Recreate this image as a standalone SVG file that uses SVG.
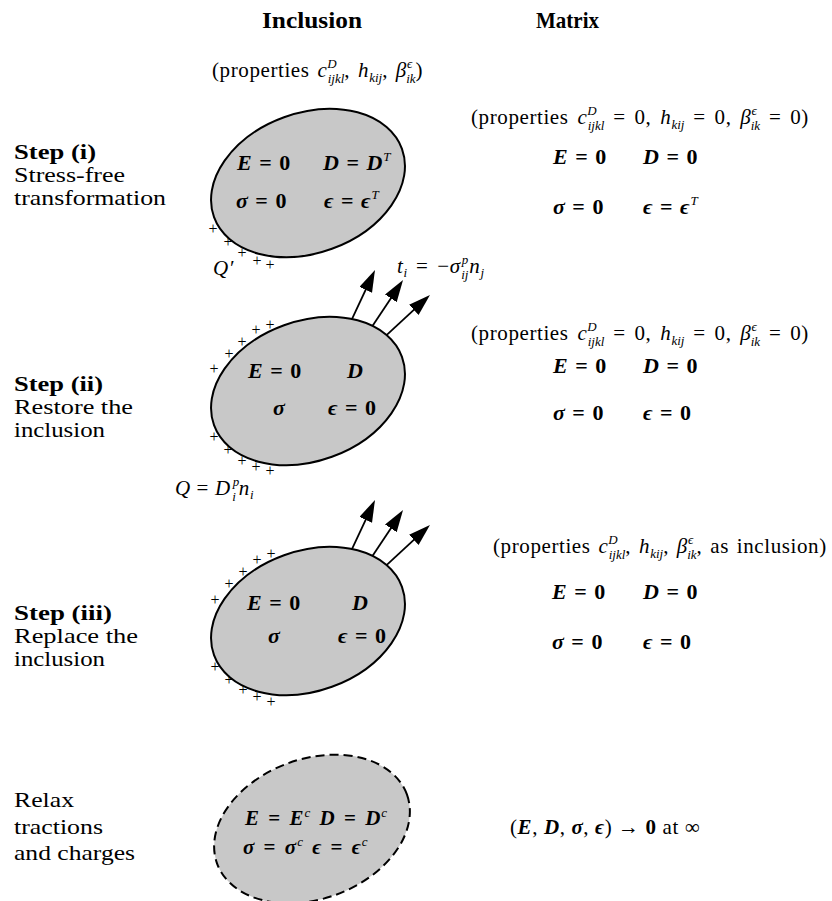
<svg xmlns="http://www.w3.org/2000/svg" width="832" height="901" viewBox="0 0 832 901">
<style>
text { font-family: "Liberation Serif", "Times New Roman", "DejaVu Serif", serif; fill: #000; }
.h { font-size: 23px; font-weight: bold; }
.lab { font-size: 21px; }
.labb { font-size: 21px; font-weight: bold; }
.p { font-size: 21px; letter-spacing: 0.6px; }
.ws { word-spacing: 3px; }
.ws2 { word-spacing: 2px; }
.i { font-style: italic; }
.s { font-size: 13px; font-style: italic; letter-spacing: 0; }
.m { font-size: 22px; font-weight: bold; word-spacing: 2px; }
.m2 { font-size: 21px; font-weight: bold; word-spacing: 4px; }
.bi { font-style: italic; }
.sup { font-size: 13px; font-style: italic; font-weight: normal; }
.plus { font-size: 16px; text-anchor: middle; }
.ell { fill: #c8c8c8; stroke: #000; stroke-width: 2; }
.dash { stroke-dasharray: 9 5; }
.arr { stroke: #000; stroke-width: 1.8; fill: none; marker-end: url(#ah); }
</style>
<defs>
<marker id="ah" markerUnits="userSpaceOnUse" markerWidth="24" markerHeight="16" refX="14" refY="7" orient="auto">
<path d="M0,0 L22,7 L0,14 z" fill="#000"/>
</marker>
</defs>
<rect width="832" height="901" fill="#fff"/>

<g id="headers">
<text class="h" x="262" y="28" textLength="100" lengthAdjust="spacingAndGlyphs">Inclusion</text>
<text class="h" x="536" y="28" textLength="63" lengthAdjust="spacingAndGlyphs">Matrix</text>
</g>

<g id="labels">
<text class="labb" x="14" y="159" textLength="82" lengthAdjust="spacingAndGlyphs">Step (i)</text>
<text class="lab" x="14" y="182" textLength="111" lengthAdjust="spacingAndGlyphs">Stress-free</text>
<text class="lab" x="14" y="205" textLength="152" lengthAdjust="spacingAndGlyphs">transformation</text>
<text class="labb" x="14" y="391" textLength="89" lengthAdjust="spacingAndGlyphs">Step (ii)</text>
<text class="lab" x="14" y="414" textLength="119" lengthAdjust="spacingAndGlyphs">Restore the</text>
<text class="lab" x="14" y="437" textLength="91" lengthAdjust="spacingAndGlyphs">inclusion</text>
<text class="labb" x="14" y="620" textLength="98" lengthAdjust="spacingAndGlyphs">Step (iii)</text>
<text class="lab" x="14" y="643" textLength="124" lengthAdjust="spacingAndGlyphs">Replace the</text>
<text class="lab" x="14" y="666" textLength="91" lengthAdjust="spacingAndGlyphs">inclusion</text>
<text class="lab" x="14" y="807" textLength="60" lengthAdjust="spacingAndGlyphs">Relax</text>
<text class="lab" x="14" y="834" textLength="89" lengthAdjust="spacingAndGlyphs">tractions</text>
<text class="lab" x="14" y="860" textLength="121" lengthAdjust="spacingAndGlyphs">and charges</text>
</g>

<g id="connectors">
<line class="arr" x1="349.6" y1="324.2" x2="371.6" y2="277.2"/>
<line class="arr" x1="370.6" y1="328.7" x2="398.6" y2="286.7"/>
<line class="arr" x1="384.1" y1="337.4" x2="424.1" y2="300.4"/>
<line class="arr" x1="349.6" y1="554.2" x2="371.6" y2="507.2"/>
<line class="arr" x1="370.6" y1="558.7" x2="398.6" y2="516.7"/>
<line class="arr" x1="384.1" y1="567.4" x2="424.1" y2="530.4"/>
</g>

<g id="inclusion-props">
<text class="p ws2" x="212" y="77">(properties <tspan class="i">c</tspan><tspan class="s" dy="-9">D</tspan><tspan class="s" dx="-9" dy="15">ijkl</tspan><tspan dy="-6">, </tspan><tspan class="i">h</tspan><tspan class="s" dy="5">kij</tspan><tspan dy="-5">, </tspan><tspan class="i">β</tspan><tspan class="s" dy="-9">ϵ</tspan><tspan class="s" dx="-6" dy="15">ik</tspan><tspan dy="-6">)</tspan></text>
</g>

<g id="step1-inclusion">
<ellipse class="ell" cx="308" cy="183" rx="100" ry="70" transform="rotate(-20 308 183)"/>
<text class="m" x="237" y="170"><tspan class="bi">E</tspan> = 0</text>
<text class="m" x="323" y="170"><tspan class="bi">D</tspan> = <tspan class="bi">D</tspan><tspan class="sup" dx="1" dy="-9">T</tspan></text>
<text class="m" x="236" y="208"><tspan class="bi">σ</tspan> = 0</text>
<text class="m" x="324" y="208"><tspan class="bi">ϵ</tspan> = <tspan class="bi">ϵ</tspan><tspan class="sup" dx="1" dy="-9">T</tspan></text>
<text class="plus" x="213" y="234">+</text>
<text class="plus" x="228" y="247">+</text>
<text class="plus" x="242" y="258">+</text>
<text class="plus" x="257" y="266">+</text>
<text class="plus" x="270" y="270">+</text>
<text class="p i" x="213" y="275">Q′</text>
</g>

<g id="traction-label">
<text class="p ws" x="397" y="273"><tspan class="i">t</tspan><tspan class="s" dy="4">i</tspan><tspan dy="-4"> = −</tspan><tspan class="i">σ</tspan><tspan class="s" dx="1" dy="-9">p</tspan><tspan class="s" dx="-7" dy="15">ij</tspan><tspan class="i" dx="1" dy="-6">n</tspan><tspan class="s" dy="4">j</tspan></text>
</g>

<g id="step2-inclusion">
<ellipse class="ell" cx="308" cy="391" rx="100" ry="70" transform="rotate(-20 308 391)"/>
<text class="m" x="248" y="378"><tspan class="bi">E</tspan> = 0</text>
<text class="m" x="347" y="378"><tspan class="bi">D</tspan></text>
<text class="m" x="273" y="415"><tspan class="bi">σ</tspan></text>
<text class="m" x="328" y="415"><tspan class="bi">ϵ</tspan> = 0</text>
<text class="plus" x="214" y="374">+</text>
<text class="plus" x="229" y="359">+</text>
<text class="plus" x="242" y="347">+</text>
<text class="plus" x="256" y="335">+</text>
<text class="plus" x="270" y="330">+</text>
<text class="plus" x="214" y="442">+</text>
<text class="plus" x="228" y="455">+</text>
<text class="plus" x="242" y="466">+</text>
<text class="plus" x="256" y="472">+</text>
<text class="plus" x="270" y="476">+</text>
<text class="p" x="175" y="495"><tspan class="i">Q</tspan> = <tspan class="i">D</tspan><tspan class="s" dx="2" dy="-9">p</tspan><tspan class="s" dx="-7" dy="15">i</tspan><tspan class="i" dx="3" dy="-6">n</tspan><tspan class="s" dy="4">i</tspan></text>
</g>

<g id="step3-inclusion">
<ellipse class="ell" cx="308" cy="621" rx="100" ry="70" transform="rotate(-20 308 621)"/>
<text class="m" x="247" y="610"><tspan class="bi">E</tspan> = 0</text>
<text class="m" x="352" y="610"><tspan class="bi">D</tspan></text>
<text class="m" x="268" y="643"><tspan class="bi">σ</tspan></text>
<text class="m" x="338" y="643"><tspan class="bi">ϵ</tspan> = 0</text>
<text class="plus" x="215" y="605">+</text>
<text class="plus" x="229" y="589">+</text>
<text class="plus" x="243" y="577">+</text>
<text class="plus" x="257" y="565">+</text>
<text class="plus" x="271" y="559">+</text>
<text class="plus" x="215" y="672">+</text>
<text class="plus" x="229" y="685">+</text>
<text class="plus" x="243" y="695">+</text>
<text class="plus" x="257" y="702">+</text>
<text class="plus" x="271" y="707">+</text>
</g>

<g id="step4-inclusion">
<ellipse class="ell dash" cx="312" cy="829" rx="101" ry="70" transform="rotate(-20 312 829)"/>
<text class="m2" x="245" y="825"><tspan class="bi">E</tspan> = <tspan class="bi">E</tspan><tspan class="sup" dx="1" dy="-8">c</tspan><tspan dy="8"> </tspan><tspan class="bi">D</tspan> = <tspan class="bi">D</tspan><tspan class="sup" dx="1" dy="-8">c</tspan></text>
<text class="m2" x="243" y="854"><tspan class="bi">σ</tspan> = <tspan class="bi">σ</tspan><tspan class="sup" dx="1" dy="-8">c</tspan><tspan dy="8">  </tspan><tspan class="bi">ϵ</tspan> = <tspan class="bi">ϵ</tspan><tspan class="sup" dx="1" dy="-8">c</tspan></text>
</g>

<g id="step1-matrix">
<text class="p ws" x="471" y="124">(properties <tspan class="i">c</tspan><tspan class="s" dy="-9">D</tspan><tspan class="s" dx="-9" dy="15">ijkl</tspan><tspan dy="-6"> = 0, </tspan><tspan class="i">h</tspan><tspan class="s" dy="5">kij</tspan><tspan dy="-5"> = 0, </tspan><tspan class="i">β</tspan><tspan class="s" dy="-9">ϵ</tspan><tspan class="s" dx="-6" dy="15">ik</tspan><tspan dy="-6"> = 0)</tspan></text>
<text class="m" x="553" y="164"><tspan class="bi">E</tspan> = 0</text>
<text class="m" x="643" y="164"><tspan class="bi">D</tspan> = 0</text>
<text class="m" x="553" y="214"><tspan class="bi">σ</tspan> = 0</text>
<text class="m" x="643" y="214"><tspan class="bi">ϵ</tspan> = <tspan class="bi">ϵ</tspan><tspan class="sup" dx="1" dy="-9">T</tspan></text>
</g>

<g id="step2-matrix">
<text class="p ws" x="471" y="340">(properties <tspan class="i">c</tspan><tspan class="s" dy="-9">D</tspan><tspan class="s" dx="-9" dy="15">ijkl</tspan><tspan dy="-6"> = 0, </tspan><tspan class="i">h</tspan><tspan class="s" dy="5">kij</tspan><tspan dy="-5"> = 0, </tspan><tspan class="i">β</tspan><tspan class="s" dy="-9">ϵ</tspan><tspan class="s" dx="-6" dy="15">ik</tspan><tspan dy="-6"> = 0)</tspan></text>
<text class="m" x="553" y="373"><tspan class="bi">E</tspan> = 0</text>
<text class="m" x="643" y="373"><tspan class="bi">D</tspan> = 0</text>
<text class="m" x="553" y="420"><tspan class="bi">σ</tspan> = 0</text>
<text class="m" x="643" y="420"><tspan class="bi">ϵ</tspan> = 0</text>
</g>

<g id="step3-matrix">
<text class="p ws2" x="493" y="553">(properties <tspan class="i">c</tspan><tspan class="s" dy="-9">D</tspan><tspan class="s" dx="-9" dy="15">ijkl</tspan><tspan dy="-6">, </tspan><tspan class="i">h</tspan><tspan class="s" dy="5">kij</tspan><tspan dy="-5">, </tspan><tspan class="i">β</tspan><tspan class="s" dy="-9">ϵ</tspan><tspan class="s" dx="-6" dy="15">ik</tspan><tspan dy="-6">, as inclusion)</tspan></text>
<text class="m" x="552" y="599"><tspan class="bi">E</tspan> = 0</text>
<text class="m" x="643" y="599"><tspan class="bi">D</tspan> = 0</text>
<text class="m" x="552" y="649"><tspan class="bi">σ</tspan> = 0</text>
<text class="m" x="643" y="649"><tspan class="bi">ϵ</tspan> = 0</text>
</g>

<g id="step4-matrix">
<text class="p" x="510" y="834">(<tspan font-weight="bold" class="i">E</tspan>, <tspan font-weight="bold" class="i">D</tspan>, <tspan font-weight="bold" class="i">σ</tspan>, <tspan font-weight="bold" class="i">ϵ</tspan>) → <tspan font-weight="bold">0</tspan> at ∞</text>
</g>
</svg>
